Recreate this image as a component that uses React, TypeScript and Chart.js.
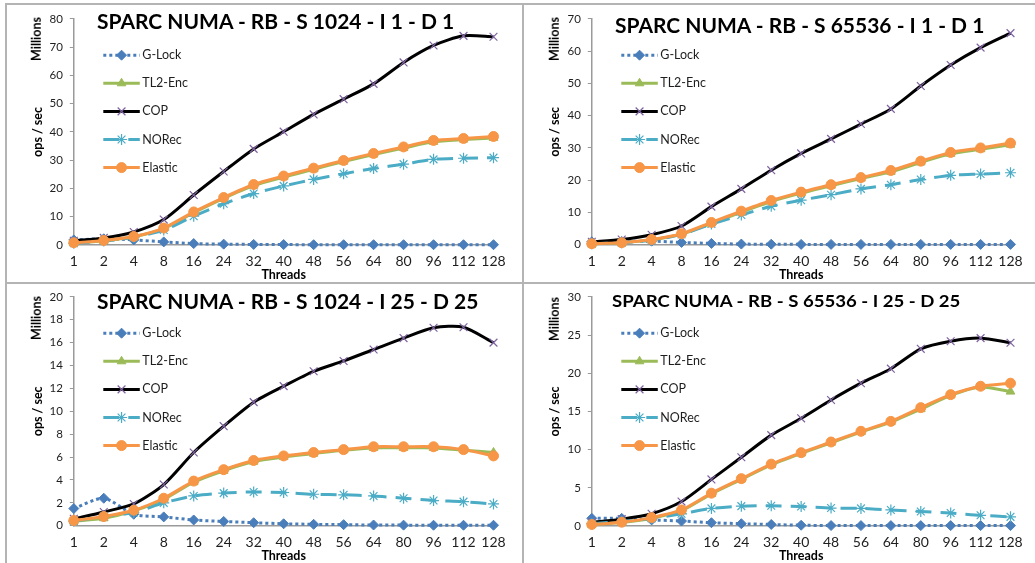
import React, { useEffect, useRef } from 'react';
import { Chart, registerables } from 'chart.js';
import { drawPoint } from 'chart.js/helpers';

Chart.register(...registerables);

// ---------- data (millions of ops / sec) ----------
const THREADS = ['1', '2', '4', '8', '16', '24', '32', '40', '48', '56', '64', '80', '96', '112', '128'];
const SERIES_NAMES = ['G-Lock', 'TL2-Enc', 'COP', 'NORec', 'Elastic'];

// S 1024 - I 1 - D 1
const GLOCK_A = [1.8, 2.2, 1.8, 1.1, 0.5, 0.3, 0.2, 0.15, 0.1, 0.1, 0.1, 0.1, 0.1, 0.1, 0.1];
const TL2_A = [0.7, 1.5, 2.9, 5.8, 11.4, 16.5, 21.0, 24.0, 26.8, 29.5, 32.0, 34.3, 36.5, 37.3, 37.9];
const COP_A = [1.5, 2.5, 4.6, 9.0, 17.7, 26.0, 34.0, 40.1, 46.2, 51.6, 57.0, 64.6, 70.6, 74.0, 73.7];
const NOREC_A = [0.6, 1.4, 2.7, 5.3, 10.2, 14.6, 18.2, 20.9, 23.2, 25.2, 27.1, 28.6, 30.3, 30.7, 30.9];
const ELASTIC_A = [0.8, 1.6, 3.0, 6.0, 11.7, 16.8, 21.4, 24.4, 27.2, 29.9, 32.4, 34.7, 37.0, 37.7, 38.4];

// S 65536 - I 1 - D 1
const GLOCK_B = [0.9, 1.0, 1.1, 0.7, 0.4, 0.2, 0.15, 0.1, 0.1, 0.1, 0.1, 0.1, 0.1, 0.1, 0.1];
const TL2_B = [0.3, 0.6, 1.5, 3.3, 6.6, 10.1, 13.4, 16.0, 18.3, 20.5, 22.6, 25.5, 28.2, 29.6, 31.0];
const COP_B = [0.9, 1.6, 3.1, 5.8, 11.8, 17.3, 23.1, 28.3, 32.8, 37.4, 42.1, 49.2, 55.7, 61.1, 65.6];
const NOREC_B = [0.3, 0.6, 1.4, 3.2, 6.4, 9.2, 11.9, 13.8, 15.5, 17.3, 18.6, 20.2, 21.5, 21.9, 22.3];
const ELASTIC_B = [0.3, 0.6, 1.6, 3.4, 6.9, 10.4, 13.7, 16.3, 18.6, 20.8, 23.0, 25.9, 28.6, 30.0, 31.5];

// S 1024 - I 25 - D 25
const GLOCK_C = [1.5, 2.4, 1.0, 0.77, 0.5, 0.37, 0.26, 0.17, 0.12, 0.09, 0.06, 0.05, 0.04, 0.04, 0.04];
const TL2_C = [0.4, 0.65, 1.3, 2.3, 3.8, 4.8, 5.6, 6.0, 6.3, 6.6, 6.8, 6.8, 6.8, 6.6, 6.4];
const COP_C = [0.6, 1.2, 1.9, 3.6, 6.4, 8.7, 10.8, 12.2, 13.5, 14.4, 15.4, 16.4, 17.3, 17.35, 16.0];
const NOREC_C = [0.4, 0.8, 1.15, 2.0, 2.6, 2.85, 2.95, 2.9, 2.75, 2.7, 2.6, 2.4, 2.2, 2.1, 1.9];
const ELASTIC_C = [0.45, 0.8, 1.35, 2.4, 3.9, 4.9, 5.7, 6.1, 6.4, 6.65, 6.9, 6.9, 6.9, 6.65, 6.1];

// S 65536 - I 25 - D 25
const GLOCK_D = [1.0, 1.0, 0.8, 0.65, 0.43, 0.3, 0.2, 0.1, 0.06, 0.05, 0.05, 0.05, 0.05, 0.05, 0.05];
const TL2_D = [0.2, 0.45, 1.0, 2.0, 4.2, 6.1, 8.0, 9.5, 10.9, 12.3, 13.6, 15.3, 17.1, 18.2, 17.6];
const COP_D = [0.5, 0.9, 1.6, 3.2, 6.1, 9.0, 11.9, 14.1, 16.5, 18.7, 20.6, 23.2, 24.2, 24.6, 24.0];
const NOREC_D = [0.3, 0.6, 1.0, 1.6, 2.3, 2.6, 2.65, 2.55, 2.35, 2.3, 2.1, 1.9, 1.7, 1.4, 1.2];
const ELASTIC_D = [0.2, 0.5, 1.1, 2.1, 4.3, 6.2, 8.1, 9.6, 11.0, 12.4, 13.7, 15.5, 17.2, 18.3, 18.7];

const TITLES = [
  'SPARC NUMA - RB - S 1024 - I 1 - D 1',
  'SPARC NUMA - RB - S 65536 - I 1 - D 1',
  'SPARC NUMA - RB - S 1024 - I 25 - D 25',
  'SPARC NUMA - RB - S 65536 - I 25 - D 25',
];
const Y_MAX = [80, 70, 20, 30];
const Y_STEP = [10, 10, 2, 5];
const Y_TITLE = 'ops / sec';
const UNIT_LABEL = 'Millions';
const X_TITLE = 'Threads';

const PANEL_DATA = [
  [GLOCK_A, TL2_A, COP_A, NOREC_A, ELASTIC_A],
  [GLOCK_B, TL2_B, COP_B, NOREC_B, ELASTIC_B],
  [GLOCK_C, TL2_C, COP_C, NOREC_C, ELASTIC_C],
  [GLOCK_D, TL2_D, COP_D, NOREC_D, ELASTIC_D],
];

// ---------- styles / layout ----------
const FONT = 'Lato, "Open Sans", sans-serif';
const AXIS = '#9a9a9a';
const TEXT = '#1e1e1e';
const BORDER = '#b4b4b4';

const SERIES_STYLE = [
  { line: '#4A7EBB', width: 3, dash: [3, 3], pointStyle: 'rectRot', radius: 5, fill: '#4A7EBB', stroke: '#4A7EBB', pw: 1 },
  { line: '#9BBB59', width: 3, dash: [], pointStyle: 'triangle', radius: 5, fill: '#9BBB59', stroke: '#9BBB59', pw: 1 },
  { line: '#000000', width: 3, dash: [], pointStyle: 'crossRot', radius: 5.5, fill: '#7F63A1', stroke: '#7F63A1', pw: 1.2 },
  { line: '#4BACC6', width: 3, dash: [16, 9], pointStyle: 'star', radius: 5.5, fill: '#4BACC6', stroke: '#4BACC6', pw: 1.2 },
  { line: '#F79646', width: 3, dash: [], pointStyle: 'circle', radius: 5, fill: '#F79646', stroke: '#F79646', pw: 1 },
];

const LAYOUT = [
  { box: { left: 8, top: 5, w: 514, h: 277 }, area: { left: 73.8, right: 493.5, top: 13, bottom: 245 },
    title: { x: 97, capY: 22, size: 20, width: 358 }, unit: { x: 37, y: 39 } },
  { box: { left: 525, top: 5, w: 510, h: 277 }, area: { left: 591.8, right: 1010.5, top: 12.7, bottom: 244.7 },
    title: { x: 615, capY: 25.5, size: 20, width: 370 }, unit: { x: 555, y: 39 } },
  { box: { left: 8, top: 283, w: 514, h: 280 }, area: { left: 73.8, right: 493.5, top: 291.7, bottom: 525.7 },
    title: { x: 97, capY: 302, size: 20, width: 382 }, unit: { x: 37, y: 318 } },
  { box: { left: 525, top: 283, w: 510, h: 280 }, area: { left: 591.8, right: 1010.5, top: 292.7, bottom: 526 },
    title: { x: 612, capY: 301, size: 17, width: 349 }, unit: { x: 555, y: 319 } },
];

const legendPlugin = {
  id: 'xlLegend',
  afterDatasetsDraw(chart: any) {
    const { ctx, chartArea } = chart;
    ctx.save();
    chart.data.datasets.forEach((d: any, i: number) => {
      const y = chartArea.top + 36.3 + i * 28.1;
      const x0 = chartArea.left + 29.5;
      const x1 = chartArea.left + 66;
      ctx.beginPath();
      ctx.setLineDash(d.borderDash || []);
      ctx.lineDashOffset = 0;
      ctx.lineWidth = d.borderWidth;
      ctx.strokeStyle = d.borderColor;
      ctx.lineCap = 'butt';
      ctx.moveTo(x0, y);
      ctx.lineTo(x1, y);
      ctx.stroke();
      ctx.setLineDash([]);
      ctx.fillStyle = d.pointBackgroundColor;
      ctx.strokeStyle = d.pointBorderColor;
      ctx.lineWidth = d.pointBorderWidth;
      drawPoint(ctx, { pointStyle: d.pointStyle, radius: d.pointRadius, rotation: 0, borderWidth: d.pointBorderWidth } as any, (x0 + x1) / 2, y);
      ctx.fillStyle = TEXT;
      ctx.font = `12.5px ${FONT}`;
      ctx.textBaseline = 'middle';
      ctx.textAlign = 'left';
      ctx.fillText(d.label, chartArea.left + 68.5, y);
    });
    ctx.restore();
  },
};

function measure(text: string, font: string) {
  const c = document.createElement('canvas').getContext('2d')!;
  c.font = font;
  return c.measureText(text).width;
}

function Panel({ idx }: { idx: number }) {
  const ref = useRef<HTMLCanvasElement>(null);
  const L = LAYOUT[idx];
  const { box, area } = L;
  useEffect(() => {
    const yW = area.left - box.left;
    const padTop = area.top - box.top;
    const padRight = box.left + box.w - area.right;
    const xH = box.top + box.h - area.bottom;
    const chart = new Chart(ref.current!, {
      type: 'line',
      data: {
        labels: THREADS,
        datasets: PANEL_DATA[idx].map((values, i) => {
          const s = SERIES_STYLE[i];
          return {
            label: SERIES_NAMES[i],
            data: values,
            borderColor: s.line,
            borderWidth: s.width,
            borderDash: s.dash,
            backgroundColor: s.fill,
            pointStyle: s.pointStyle,
            pointRadius: s.radius,
            pointBackgroundColor: s.fill,
            pointBorderColor: s.stroke,
            pointBorderWidth: s.pw,
            tension: 0.25,
            fill: false,
            clip: false,
            order: 4 - i,
          } as any;
        }),
      },
      options: {
        responsive: false,
        maintainAspectRatio: false,
        animation: false,
        events: [],
        layout: { padding: { top: padTop, right: padRight, left: 0, bottom: 0 } },
        plugins: { legend: { display: false }, tooltip: { enabled: false }, title: { display: false } },
        scales: {
          x: {
            type: 'category',
            offset: false,
            grid: { display: false, drawTicks: false, drawOnChartArea: false },
            border: { display: true, color: AXIS, width: 1.5 },
            ticks: { color: TEXT, font: { family: FONT, size: 14 }, padding: 8, maxRotation: 0, autoSkip: false },
            title: { display: true, text: X_TITLE, color: '#000', font: { family: FONT, size: 12.5, weight: 'bold' }, padding: { top: 0, bottom: 0 } },
            afterFit: (s: any) => { s.height = xH; },
          },
          y: {
            min: 0,
            max: Y_MAX[idx],
            ticks: { stepSize: Y_STEP[idx], color: TEXT, font: { family: FONT, size: 11.5 }, padding: 7 },
            grid: { display: true, drawOnChartArea: false, drawTicks: true, tickLength: 4, color: AXIS },
            border: { display: true, color: AXIS, width: 1.5 },
            title: { display: true, text: Y_TITLE, color: '#000', font: { family: FONT, size: 12.5, weight: 'bold' }, padding: { top: 22.5, bottom: 0 } },
            afterFit: (s: any) => { s.width = yW; },
          },
        },
      } as any,
      plugins: [legendPlugin],
    });
    return () => chart.destroy();
  }, [idx]);

  const t = L.title;
  const tFont = `bold ${t.size}px ${FONT}`;
  const k = t.width / measure(TITLES[idx], tFont);
  return (
    <>
      <canvas ref={ref} width={box.w} height={box.h}
        style={{ position: 'absolute', left: box.left, top: box.top, width: box.w, height: box.h }} />
      <div style={{
        position: 'absolute', left: t.x, top: t.capY - 0.529 * t.size, fontFamily: FONT, fontWeight: 700,
        fontSize: t.size, lineHeight: 1, whiteSpace: 'nowrap', color: '#000',
        transform: `scaleX(${k})`, transformOrigin: 'left top',
      }}>{TITLES[idx]}</div>
      <div style={{ position: 'absolute', left: L.unit.x, top: L.unit.y, width: 0, height: 0 }}>
        <div style={{
          position: 'absolute', left: 0, top: 0, transform: 'translate(-50%, -50%) rotate(-90deg)',
          fontFamily: FONT, fontWeight: 700, fontSize: 12.5, lineHeight: 1, whiteSpace: 'nowrap', color: '#000',
        }}>{UNIT_LABEL}</div>
      </div>
    </>
  );
}

export default function App() {
  return (
    <div style={{ position: 'fixed', left: 0, top: 0, width: 1035, height: 563, background: '#fff', overflow: 'hidden' }}>
      {[0, 1, 2, 3].map((i) => <Panel key={i} idx={i} />)}
      <div style={{ position: 'absolute', left: 5, top: 3, width: 1030, height: 2, background: BORDER }} />
      <div style={{ position: 'absolute', left: 5, top: 3, width: 2, height: 560, background: BORDER }} />
      <div style={{ position: 'absolute', left: 522, top: 3, width: 2, height: 560, background: BORDER }} />
      <div style={{ position: 'absolute', left: 5, top: 282, width: 1030, height: 2, background: BORDER }} />
    </div>
  );
}
